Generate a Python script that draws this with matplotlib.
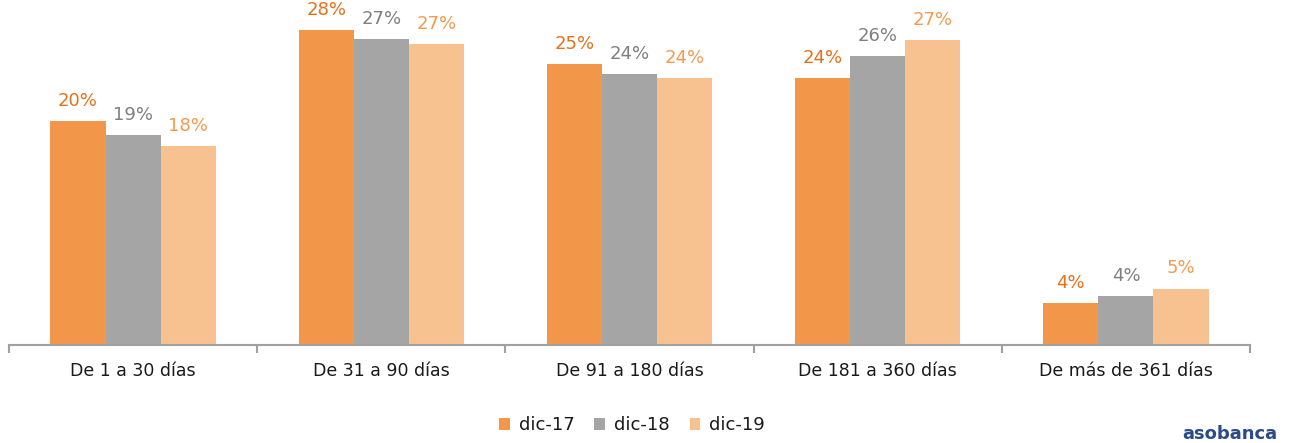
import matplotlib
matplotlib.use("Agg")
import matplotlib.pyplot as plt
import numpy as np
from matplotlib.ticker import FixedLocator

categories = ["De 1 a 30 días", "De 31 a 90 días", "De 91 a 180 días",
              "De 181 a 360 días", "De más de 361 días"]
series = ["dic-17", "dic-18", "dic-19"]
dic17 = [19.8, 27.9, 24.9, 23.6, 3.7]
dic18 = [18.6, 27.1, 24.0, 25.6, 4.3]
dic19 = [17.6, 26.6, 23.6, 27.0, 5.0]
labels17 = ["20%", "28%", "25%", "24%", "4%"]
labels18 = ["19%", "27%", "24%", "26%", "4%"]
labels19 = ["18%", "27%", "24%", "27%", "5%"]

bar_colors = ["#F2974A", "#A5A5A5", "#F8C290"]
label_colors = ["#E5711A", "#7F7F7F", "#F59A4E"]

plt.rcParams['font.family'] = ['DejaVu Sans']

fig = plt.figure(figsize=(12.91, 4.43), dpi=100)
ax = fig.add_axes([9/1291, 98/443, (1250-9)/1291, (345-6)/443])

x = np.arange(len(categories))
w = 0.222
allvals = [dic17, dic18, dic19]
alllabels = [labels17, labels18, labels19]
for i, (vals, labs) in enumerate(zip(allvals, alllabels)):
    pos = x + (i - 1) * w
    bars = ax.bar(pos, vals, width=w, color=bar_colors[i], label=series[i],
                  edgecolor='none', zorder=2)
    for b, lab in zip(bars, labs):
        ax.annotate(lab, (b.get_x() + b.get_width()/2, b.get_height()),
                    xytext=(0, 8), textcoords='offset points',
                    ha='center', va='bottom', fontsize=13,
                    color=label_colors[i])

ax.set_xlim(-0.5, len(categories) - 0.5)
ax.set_ylim(0, 30)
ax.set_yticks([])
for s in ['top', 'right', 'left']:
    ax.spines[s].set_visible(False)
ax.spines['bottom'].set_color('#A0A0A0')
ax.spines['bottom'].set_linewidth(1.5)

ax.xaxis.set_major_locator(FixedLocator(np.arange(-0.5, len(categories), 1.0)))
ax.set_xticklabels([""] * (len(categories) + 1))
ax.set_xticks(x, minor=True)
ax.set_xticklabels(categories, minor=True, fontsize=12.5, color='#1A1A1A')
ax.tick_params(axis='x', which='major', length=6, width=1.5, color='#A0A0A0')
ax.tick_params(axis='x', which='minor', length=0, pad=12)

leg = fig.legend(loc='center', bbox_to_anchor=(632/1291, 1 - 425.5/443),
                 ncol=3, frameon=False, fontsize=13, handlelength=0.6,
                 handleheight=0.6, handletextpad=0.5, columnspacing=1.1)
for t in leg.get_texts():
    t.set_color('#1A1A1A')

fig.text(1277/1291, 1 - 434/443, "asobanca", ha='right', va='center',
         fontsize=13, color='#2B4A8A', fontweight='bold')

fig.savefig("out.png", dpi=100)
